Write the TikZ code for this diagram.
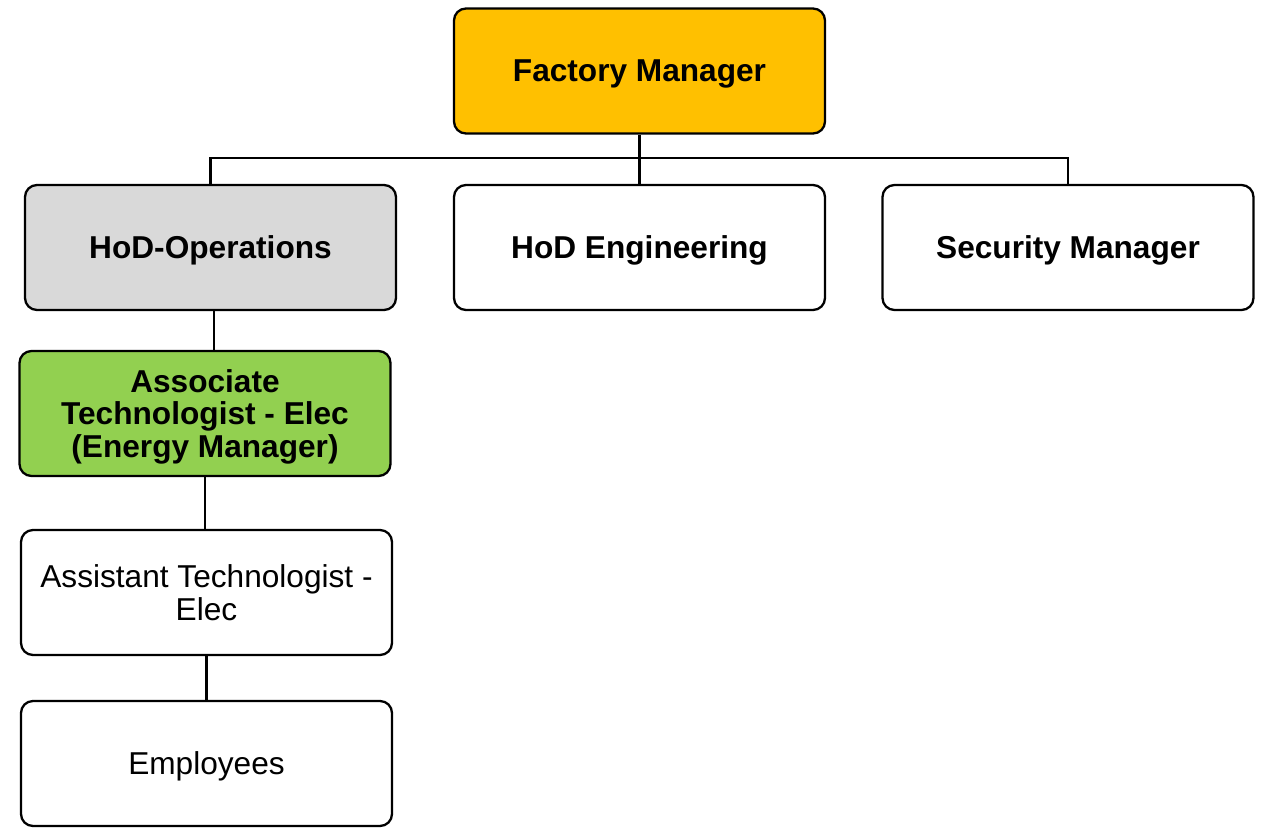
\documentclass[tikz,border=0pt]{standalone}
\usepackage{fontspec}
\setmainfont{Liberation Sans}
\definecolor{topgold}{HTML}{FFC000}
\definecolor{opsgrey}{HTML}{D9D9D9}
\definecolor{elecgreen}{HTML}{92D050}
\begin{document}
\begin{tikzpicture}[line width=1.3pt]
    \useasboundingbox (0,0) rectangle (25.3,-16.56);
    {
        \tikzset{every node/.style = {shape=rectangle, draw, rounded corners=0.24cm, fill=white,
            minimum width=7.42cm, minimum height=2.5cm, align=center, inner sep=2pt, text depth=0pt,
            font=\fontsize{18}{18.6}\selectfont}}
        \tikzset{chief/.style = {font=\fontsize{18}{18.6}\selectfont\bfseries}}

        \node[chief, fill=topgold] (fm) at (12.79, -1.42) {Factory Manager};
        \node[chief, fill=opsgrey] (ops) at (4.21, -4.95) {HoD-Operations};
        \node[chief] (eng) at (12.79, -4.95) {HoD Engineering};
        \node[chief] (sec) at (21.36, -4.95) {Security Manager};
        \node[chief, fill=elecgreen] (ate) at (4.10, -8.27) {Associate\\Technologist - Elec\\(Energy Manager)};
        \node (asst) at (4.13, -11.85) {Assistant Technologist -\\Elec};
        \node (emp) at (4.13, -15.27) {Employees};
    }

        \coordinate (bus) at (12.79, -3.16);
        \draw (fm) -- (bus);
        \draw (bus) -| (ops);
        \draw (bus) -- (eng);
        \draw (bus) -| (sec);
        \draw ([xshift=0.07cm]ops.south) -- ([xshift=0.07cm]ops.south |- ate.north);
        \draw (ate.south) -- (ate.south |- asst.north);
        \draw (asst) -- (emp);

    \end{tikzpicture}
\end{document}
